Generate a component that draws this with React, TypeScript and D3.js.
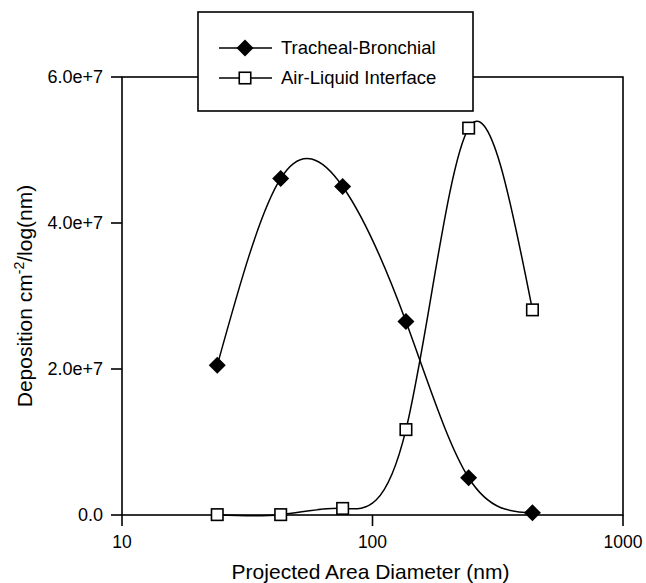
import React from "react";
import * as d3 from "d3";

const diameters = [24, 43, 76, 136, 242, 435];
const tracheal = [2.05e7, 4.61e7, 4.5e7, 2.65e7, 0.51e7, 0.03e7];
const airLiquid = [0.005e7, 0.005e7, 0.09e7, 1.17e7, 5.3e7, 2.81e7];
const xTicks = [10, 100, 1000];
const yTicks = [0, 2e7, 4e7, 6e7];
const seriesNames = ["Tracheal-Bronchial", "Air-Liquid Interface"];

const width = 646;
const height = 583;
const left = 122;
const right = 623;
const top = 77;
const bottom = 515;
const font = "Liberation Sans, Arial, sans-serif";

function fmtY(v: number) {
    if (v === 0) return "0.0";
    const exp = Math.floor(Math.log10(v));
    return (v / Math.pow(10, exp)).toFixed(1) + "e+" + exp;
}

function Diamond({ x, y }: { x: number; y: number }) {
    const r = 8.5;
    return <path d={`M${x},${y - r}L${x + r},${y}L${x},${y + r}L${x - r},${y}Z`} fill="#000" />;
}

function Square({ x, y }: { x: number; y: number }) {
    const s = 11.5;
    return <rect x={x - s / 2} y={y - s / 2} width={s} height={s} fill="#fff" stroke="#000" strokeWidth={1.6} />;
}

export default function App() {
    const x = d3.scaleLog().domain([10, 1000]).range([left, right]);
    const y = d3.scaleLinear().domain([0, 6e7]).range([bottom, top]);

    // spline through the points, in log-x space like the original
    const line = d3.line<number>()
        .x((d, i) => x(diameters[i]))
        .y((d) => y(d))
        .curve(d3.curveNatural);

    return (
        <svg width={width} height={height} style={{ position: "absolute", left: 0, top: 0 }}
            fontFamily={font}>
            <rect width={width} height={height} fill="#fff" />

            {/* frame */}
            <rect x={left} y={top} width={right - left} height={bottom - top} fill="none" stroke="#000" strokeWidth={1.6} />

            {/* y ticks */}
            {yTicks.map((t) => (
                <g key={t}>
                    <line x1={left - 11} x2={left} y1={y(t)} y2={y(t)} stroke="#000" strokeWidth={1.6} />
                    <text x={103} y={y(t)} dy="0.35em" textAnchor="end" fontSize={18}>{fmtY(t)}</text>
                </g>
            ))}

            {/* x ticks */}
            {xTicks.map((t) => (
                <g key={t}>
                    <line x1={x(t)} x2={x(t)} y1={bottom} y2={bottom + 11} stroke="#000" strokeWidth={1.6} />
                    <text x={x(t)} y={548} textAnchor="middle" fontSize={17.5}>{t}</text>
                </g>
            ))}

            {/* curves */}
            <path d={line(tracheal) || ""} fill="none" stroke="#000" strokeWidth={1.5} />
            <path d={line(airLiquid) || ""} fill="none" stroke="#000" strokeWidth={1.5} />

            {airLiquid.map((v, i) => <Square key={"a" + i} x={x(diameters[i])} y={y(v)} />)}
            {tracheal.map((v, i) => <Diamond key={"t" + i} x={x(diameters[i])} y={y(v)} />)}

            {/* axis titles */}
            <text x={(left + right) / 2 - 2} y={579} textAnchor="middle" fontSize={21}>Projected Area Diameter (nm)</text>
            <text transform={`translate(32,${(top + bottom) / 2}) rotate(-90)`} textAnchor="middle" fontSize={21}>
                Deposition cm<tspan dy={-8} fontSize={14}>-2</tspan><tspan dy={8}>/log(nm)</tspan>
            </text>

            {/* legend */}
            <rect x={198} y={12} width={275} height={99} fill="#fff" stroke="#000" strokeWidth={1.6} />
            {seriesNames.map((name, i) => {
                const ly = 48 + i * 30;
                return (
                    <g key={name}>
                        <line x1={219} x2={272} y1={ly} y2={ly} stroke="#000" strokeWidth={1.6} />
                        {i === 0 ? <Diamond x={245} y={ly} /> : <Square x={245} y={ly} />}
                        <text x={281} y={ly} dy="0.35em" fontSize={18.5}>{name}</text>
                    </g>
                );
            })}
        </svg>
    );
}
